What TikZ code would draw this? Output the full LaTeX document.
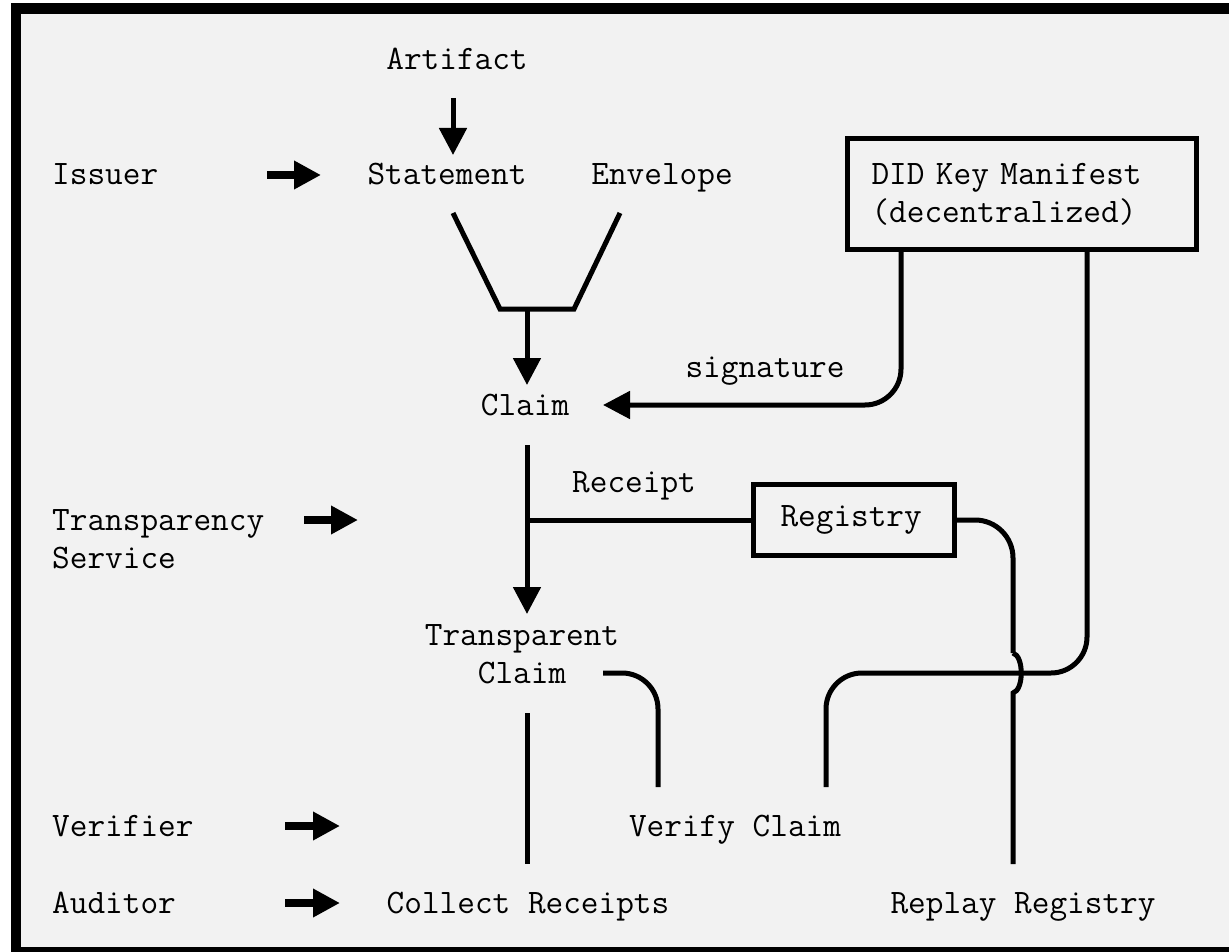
\documentclass[tikz,border=0pt]{standalone}
\usepackage{fontspec}
\usetikzlibrary{arrows.meta}
\newcommand{\mono}{\fontsize{34.3}{38}\selectfont\ttfamily}

\begin{document}
\begin{tikzpicture}[x=1pt, y=-1pt,
    lbl/.style={inner sep=0pt, font=\mono, anchor=base},
    role/.style={inner sep=0pt, font=\mono, anchor=base west},
    box/.style={draw, line width=5pt, inner ysep=0pt, font=\mono, align=left},
    wire/.style={line width=5pt},
    tip/.style={-{Triangle[length=27pt,width=27pt]}},
    fat/.style={line width=8pt, -{Triangle[length=27pt,width=27pt]}}]

    \useasboundingbox (0,0) rectangle (1229,952);
    \fill[black] (11,3) rectangle (1240,960);
    \fill[gray!10] (21,14) rectangle (1240,947);

    % roles
    \node [role] (issuer) at (52,185) {Issuer};
    \node [role, align=left] (transp) at (52,568) {Transparency\\Service};
    \node [role] (verifier) at (52,836) {Verifier};
    \node [role] (auditor) at (52,913) {Auditor};

    % flow
    \node [lbl] (artifact) at (457,70) {Artifact};
    \node [lbl] (statement) at (447,185) {Statement};
    \node [lbl] (envelope) at (662,185) {Envelope};
    \node [lbl] (claim) at (525,415) {Claim};
    \node [lbl, align=center] (tclaim) at (522,683) {Transparent\\Claim};
    \node [lbl] (verify) at (735,836) {Verify Claim};
    \node [lbl] (collect) at (528,913) {Collect Receipts};
    \node [lbl] (replay) at (1023,913) {Replay Registry};
    \node [lbl] (sig) at (765,377) {signature};
    \node [lbl] (receipt) at (634,492) {Receipt};

    \node [box, inner xsep=24pt, text width=301pt, minimum height=111pt] (dkm) at (1022,194) {DID Key Manifest\\(decentralized)};
    \node [box, inner xsep=27pt, text width=147pt, minimum height=71pt] (registry) at (854,520) {Registry};

    \coordinate (iss-a) at (267,175);
    \coordinate (iss-b) at (321,175);
    \coordinate (trs-a) at (304,520);
    \coordinate (trs-b) at (358,520);
    \coordinate (ver-a) at (285,826);
    \coordinate (ver-b) at (340,826);
    \coordinate (aud-a) at (285,903);
    \coordinate (aud-b) at (340,903);

    \coordinate (art-out) at (453,98);
    \coordinate (stm-in) at (453,155);
    \coordinate (stm-out) at (453,213);
    \coordinate (env-out) at (620,213);
    \coordinate (fun-l) at (500,309);
    \coordinate (fun-r) at (574,309);
    \coordinate (fun-m) at (527,309);
    \coordinate (clm-in) at (527,385);
    \coordinate (clm-sig) at (603,405);
    \coordinate (clm-out) at (527,445);
    \coordinate (rcpt) at (527,520);
    \coordinate (tcl-in) at (527,614);
    \coordinate (tcl-out) at (527,713);
    \coordinate (tcl-ver) at (603,673);
    \coordinate (col-in) at (527,864);
    \coordinate (vfy-l) at (658,787);
    \coordinate (vfy-r) at (826,787);
    \coordinate (hop-a) at (1013,653);
    \coordinate (hop-b) at (1013,693);
    \coordinate (rep-in) at (1013,864);

    \draw [fat] (iss-a) -- (iss-b);
    \draw [fat] (trs-a) -- (trs-b);
    \draw [fat] (ver-a) -- (ver-b);
    \draw [fat] (aud-a) -- (aud-b);

    \draw [wire, tip] (art-out) -- (stm-in);
    \draw [wire] (stm-out) -- (fun-l) -- (fun-r) -- (env-out);
    \draw [wire, tip] (fun-m) -- (clm-in);
    \draw [wire, tip, rounded corners=36pt] (901,0 |- dkm.south) -- (901,0 |- clm-sig) -- (clm-sig);
    \draw [wire, tip] (clm-out) -- (tcl-in);
    \draw [wire] (rcpt) -- (registry.west);
    \draw [wire, rounded corners=38pt] (registry.east) -- (hop-a |- registry.east) -- (hop-a);
    \draw [wire] (hop-a) .. controls (1024,656) and (1024,690) .. (hop-b) -- (rep-in);
    \draw [wire, rounded corners=36pt] (1087,0 |- dkm.south) -- (1087,0 |- tcl-ver) -- (vfy-r |- tcl-ver) -- (vfy-r);
    \draw [wire, rounded corners=36pt] (tcl-ver) -- (vfy-l |- tcl-ver) -- (vfy-l);
    \draw [wire] (tcl-out) -- (col-in);
\end{tikzpicture}
\end{document}
